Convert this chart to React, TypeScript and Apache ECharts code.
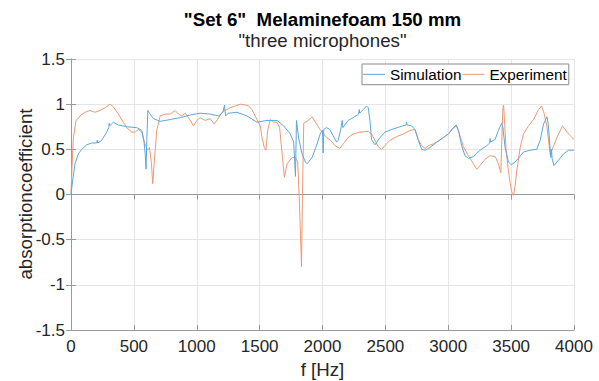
import React, { useEffect, useRef } from "react";
import * as echarts from "echarts";

// Frequency axis (Hz) and absorption coefficient per curve
const simFreq = [
  0, 13, 32, 58, 85, 125, 165, 204, 209, 213, 244, 284, 300, 304, 308, 337, 377, 443, 523, 563,
  581, 590, 597, 603, 611, 624, 656, 709, 789, 868, 948, 1027, 1107, 1174, 1208, 1221, 1229, 1253,
  1320, 1399, 1479, 1558, 1638, 1691, 1744, 1771, 1785, 1793, 1811, 1837, 1864, 1878, 1917, 1957,
  1984, 2000, 2005, 2010, 2032, 2058, 2085, 2112, 2125, 2143, 2157, 2162, 2204, 2244, 2288, 2292,
  2296, 2324, 2350, 2364, 2377, 2390, 2417, 2457, 2496, 2550, 2616, 2665, 2669, 2673, 2709, 2735,
  2762, 2789, 2815, 2855, 2908, 2961, 3001, 3041, 3062, 3081, 3107, 3133, 3160, 3200, 3253, 3306,
  3330, 3333, 3336, 3373, 3399, 3425, 3434, 3452, 3479, 3500, 3524, 3558, 3598, 3651, 3704, 3731,
  3758, 3785, 3795, 3805, 3816, 3821, 3826, 3840, 3877, 3917, 3957, 4000,
];
const simAlpha = [
  0.0, 0.15, 0.34, 0.45, 0.5, 0.55, 0.57, 0.57, 0.6, 0.57, 0.6, 0.69, 0.74, 0.79, 0.76, 0.8, 0.77, 0.75, 0.74, 0.71,
  0.58, 0.45, 0.28, 0.6, 0.93, 0.9, 0.84, 0.81, 0.83, 0.85, 0.88, 0.9, 0.89, 0.87, 0.91, 0.99, 0.87, 0.9,
  0.91, 0.87, 0.8, 0.82, 0.82, 0.76, 0.67, 0.58, 0.2, 0.82, 0.62, 0.45, 0.36, 0.34, 0.41, 0.56,
  0.68, 0.71, 0.46, 0.72, 0.74, 0.72, 0.65, 0.58, 0.6, 0.71, 0.82, 0.74, 0.82, 0.85, 0.89, 0.94,
  0.9, 0.94, 0.98, 0.96, 0.82, 0.61, 0.55, 0.63, 0.69, 0.72, 0.75, 0.77, 0.8, 0.77, 0.76, 0.72,
  0.6, 0.5, 0.49, 0.52, 0.58, 0.63, 0.67, 0.74, 0.77, 0.71, 0.54, 0.43, 0.4, 0.42, 0.49, 0.54,
  0.57, 0.62, 0.58, 0.61, 0.71, 0.79, 0.75, 0.52, 0.36, 0.33, 0.35, 0.4, 0.47, 0.49, 0.5, 0.6,
  0.78, 0.86, 0.78, 0.6, 0.41, 0.5, 0.4, 0.32, 0.38, 0.45, 0.49, 0.49,
];

const expFreq = [
  0, 8, 19, 40, 50, 72, 111, 151, 191, 231, 271, 311, 337, 377, 417, 443, 483, 510, 536, 563,
  589, 608, 624, 640, 650, 661, 682, 709, 749, 789, 828, 855, 881, 908, 935, 974, 1001, 1027,
  1067, 1107, 1139, 1174, 1213, 1240, 1266, 1306, 1346, 1386, 1412, 1439, 1479, 1505, 1519, 1537,
  1550, 1564, 1585, 1612, 1638, 1659, 1679, 1697, 1718, 1758, 1785, 1803, 1817, 1833, 1841, 1851,
  1878, 1918, 1944, 1970, 1997, 2032, 2064, 2100, 2138, 2165, 2204, 2244, 2297, 2364, 2390, 2417,
  2443, 2470, 2496, 2536, 2589, 2643, 2696, 2735, 2762, 2789, 2815, 2842, 2881, 2921, 2961, 3001,
  3027, 3067, 3089, 3120, 3160, 3200, 3227, 3253, 3293, 3333, 3373, 3399, 3418, 3426, 3434, 3440,
  3448, 3460, 3479, 3497, 3511, 3519, 3530, 3545, 3572, 3598, 3638, 3678, 3718, 3742, 3758, 3784,
  3811, 3832, 3864, 3909, 3944, 3984, 4000,
];
const expAlpha = [
  0.02, 0.3, 0.63, 0.82, 0.83, 0.87, 0.91, 0.93, 0.91, 0.93, 0.96, 1.0, 0.97, 0.89, 0.8, 0.74, 0.69, 0.69, 0.72, 0.69,
  0.56, 0.49, 0.52, 0.34, 0.12, 0.34, 0.71, 0.87, 0.89, 0.89, 0.93, 0.89, 0.87, 0.9, 0.85, 0.76, 0.82, 0.85,
  0.82, 0.84, 0.78, 0.85, 0.93, 0.94, 0.96, 0.98, 1.0, 0.99, 0.98, 0.94, 0.83, 0.76, 0.63, 0.52,
  0.49, 0.71, 0.83, 0.8, 0.8, 0.74, 0.45, 0.19, 0.34, 0.41, 0.41, 0.36, -0.1, -0.8, 0.05, 0.79,
  0.81, 0.86, 0.8, 0.74, 0.69, 0.63, 0.6, 0.54, 0.51, 0.56, 0.63, 0.67, 0.69, 0.7, 0.67, 0.6,
  0.53, 0.5, 0.54, 0.6, 0.64, 0.67, 0.71, 0.72, 0.61, 0.54, 0.51, 0.54, 0.56, 0.59, 0.63, 0.67,
  0.72, 0.76, 0.67, 0.53, 0.43, 0.34, 0.28, 0.32, 0.39, 0.43, 0.42, 0.34, 0.24, 0.6, 0.95, 0.99,
  0.8, 0.49, 0.26, 0.08, 0.0, -0.01, 0.08, 0.26, 0.52, 0.67, 0.76, 0.83, 0.94, 0.98, 0.92, 0.76,
  0.44, 0.52, 0.63, 0.76, 0.69, 0.63, 0.61,
];

const xTicks = { min: 0, max: 4000, interval: 500 };
const yTicks = { min: -1.5, max: 1.5, interval: 0.5 };

const FONT = "'Liberation Sans', Arial, Helvetica, sans-serif";
const INK = "#262626";
const AXIS = "#9a9a9a";
const GRID = "#e6e6e6";
const SIM_COLOR = "#5aa8dc";
const EXP_COLOR = "#ee9874";

const zip = (xs: number[], ys: number[]) => xs.map((x, i) => [x, ys[i]]);

export default function App() {
  const ref = useRef<HTMLDivElement>(null);

  useEffect(() => {
    if (!ref.current) return;
    const chart = echarts.init(ref.current, undefined, { renderer: "svg" });

    const boxAxis = {
      axisLine: { show: true, lineStyle: { color: AXIS, width: 1 } },
      axisTick: { show: true, inside: true, length: 5, lineStyle: { color: AXIS } },
      axisLabel: { show: false },
      splitLine: { show: false },
    };

    const tickLabel = {
      show: true,
      fontSize: 17,
      color: INK,
      fontFamily: FONT,
      showMinLabel: true,
      showMaxLabel: true,
      formatter: (v: number) => String(v),
    };

    chart.setOption({
      animation: false,
      backgroundColor: "#ffffff",
      textStyle: { fontFamily: FONT },
      grid: {
        left: 71,
        top: 59,
        width: 503,
        height: 271,
        containLabel: false,
        outerBoundsMode: "none",
      },
      graphic: [
        {
          type: "text",
          x: 322.5,
          y: 19.5,
          style: {
            text: '"Set 6"  Melaminefoam 150 mm',
            font: `bold 18.7px ${FONT}`,
            fill: "#000000",
            textAlign: "center",
            textVerticalAlign: "middle",
          },
        },
        {
          type: "text",
          x: 322.5,
          y: 40.5,
          style: {
            text: '"three microphones"',
            font: `18.7px ${FONT}`,
            fill: INK,
            textAlign: "center",
            textVerticalAlign: "middle",
          },
        },
        {
          type: "text",
          x: 322.5,
          y: 369,
          style: {
            text: "f [Hz]",
            font: `18.7px ${FONT}`,
            fill: INK,
            textAlign: "center",
            textVerticalAlign: "middle",
          },
        },
        {
          type: "text",
          x: 25,
          y: 194,
          rotation: Math.PI / 2,
          style: {
            text: "absorptioncoefficient",
            font: `18.7px ${FONT}`,
            fill: INK,
            textAlign: "center",
            textVerticalAlign: "middle",
          },
        },
      ],
      legend: {
        left: 362,
        top: 64,
        padding: [2, 2, 2, 1],
        itemGap: 1,
        itemWidth: 22,
        itemHeight: 1,
        icon: "rect",
        borderColor: "#8c8c8c",
        borderWidth: 1,
        backgroundColor: "#ffffff",
        textStyle: { fontFamily: FONT, fontSize: 15.3, lineHeight: 16.7, color: "#000000" },
        data: ["Simulation", "Experiment"],
      },
      xAxis: [
        {
          type: "value",
          position: "bottom",
          ...xTicks,
          axisLine: { show: true, onZero: false, lineStyle: { color: AXIS, width: 1 } },
          axisTick: { show: true, inside: true, length: 5, lineStyle: { color: AXIS } },
          axisLabel: { ...tickLabel, margin: 8 },
          splitLine: { show: true, lineStyle: { color: GRID, width: 1 } },
        },
        { type: "value", position: "top", ...xTicks, ...boxAxis },
      ],
      yAxis: [
        {
          type: "value",
          position: "left",
          ...yTicks,
          axisLine: { show: true, onZero: false, lineStyle: { color: AXIS, width: 1 } },
          axisTick: { show: true, inside: true, length: 5, lineStyle: { color: AXIS } },
          axisLabel: { ...tickLabel, margin: 6 },
          splitLine: { show: true, lineStyle: { color: GRID, width: 1 } },
        },
        { type: "value", position: "right", ...yTicks, ...boxAxis },
      ],
      series: [
        {
          name: "Simulation",
          type: "line",
          xAxisIndex: 0,
          yAxisIndex: 0,
          data: zip(simFreq, simAlpha),
          showSymbol: false,
          symbol: "none",
          color: SIM_COLOR,
          lineStyle: { color: SIM_COLOR, width: 1 },
          z: 3,
        },
        {
          name: "Experiment",
          type: "line",
          xAxisIndex: 0,
          yAxisIndex: 0,
          data: zip(expFreq, expAlpha),
          showSymbol: false,
          symbol: "none",
          color: EXP_COLOR,
          lineStyle: { color: EXP_COLOR, width: 1 },
          z: 2,
        },
      ],
    });

    return () => chart.dispose();
  }, []);

  return <div ref={ref} style={{ width: 599, height: 381, position: "absolute", left: 0, top: 0 }} />;
}
